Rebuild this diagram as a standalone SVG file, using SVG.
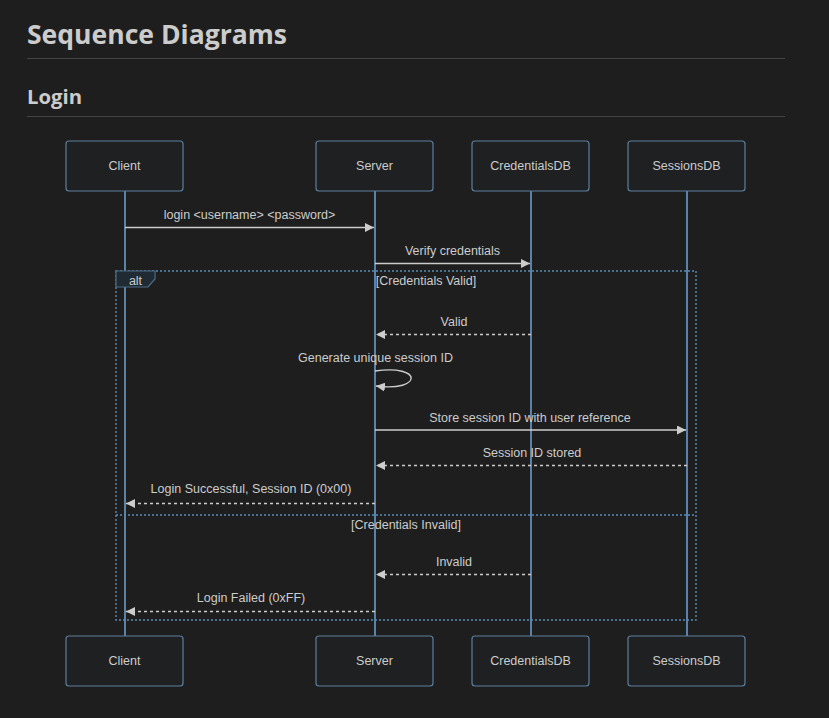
<svg xmlns="http://www.w3.org/2000/svg" width="829" height="718" viewBox="0 0 829 718">
<style>
.bg{fill:#1e1e1e}
.h{fill:#cccccc;font-family:"Open Sans","DejaVu Sans",sans-serif;font-weight:700}
.rule{stroke:#444444;stroke-width:1}
.actor rect{fill:#1f2021;stroke:#5d7f9f;stroke-width:1.2}
.t{fill:#cccccc;font-family:"Liberation Sans",Arial,sans-serif;font-size:12.5px;text-anchor:middle}
.life{stroke:#6b9ccb;stroke-width:1.6}
.msg{stroke:#cccccc;stroke-width:1.4;fill:none}
.dash{stroke-dasharray:3,3}
.frame{fill:none;stroke:#5b8ab5;stroke-width:1.4;stroke-dasharray:2,2}
.tab{fill:#1f2a33;stroke:#4d6d86;stroke-width:1.2}
</style>
<defs>
<marker id="ah" viewBox="0 0 10 10" refX="10" refY="5" markerWidth="9" markerHeight="9" markerUnits="userSpaceOnUse" orient="auto">
<path d="M0,0 L10,5 L0,10 z" fill="#cccccc"/>
</marker>
</defs>
<rect class="bg" x="0" y="0" width="829" height="718"/>
<text class="h" x="27" y="44" font-size="27" textLength="260" lengthAdjust="spacingAndGlyphs">Sequence Diagrams</text>
<line class="rule" x1="27" y1="58.5" x2="785" y2="58.5"/>
<text class="h" x="27" y="104" font-size="19" textLength="55" lengthAdjust="spacingAndGlyphs">Login</text>
<line class="rule" x1="27" y1="116.5" x2="785" y2="116.5"/>

<g id="lifelines">
<line class="life" x1="125" y1="191" x2="125" y2="636"/>
<line class="life" x1="375" y1="191" x2="375" y2="636"/>
<line class="life" x1="531" y1="191" x2="531" y2="636"/>
<line class="life" x1="687" y1="191" x2="687" y2="636"/>
</g>

<g id="client" class="actor">
<rect x="66" y="141" width="117" height="50" rx="3"/>
<text class="t" x="124.5" y="170">Client</text>
</g>
<g id="server" class="actor">
<rect x="316" y="141" width="117" height="50" rx="3"/>
<text class="t" x="374.5" y="170">Server</text>
</g>
<g id="credentialsdb" class="actor">
<rect x="472" y="141" width="117" height="50" rx="3"/>
<text class="t" x="530.5" y="170">CredentialsDB</text>
</g>
<g id="sessionsdb" class="actor">
<rect x="628" y="141" width="117" height="50" rx="3"/>
<text class="t" x="686.5" y="170">SessionsDB</text>
</g>
<g id="client-bottom" class="actor">
<rect x="66" y="636" width="117" height="50" rx="3"/>
<text class="t" x="124.5" y="665">Client</text>
</g>
<g id="server-bottom" class="actor">
<rect x="316" y="636" width="117" height="50" rx="3"/>
<text class="t" x="374.5" y="665">Server</text>
</g>
<g id="credentialsdb-bottom" class="actor">
<rect x="472" y="636" width="117" height="50" rx="3"/>
<text class="t" x="530.5" y="665">CredentialsDB</text>
</g>
<g id="sessionsdb-bottom" class="actor">
<rect x="628" y="636" width="117" height="50" rx="3"/>
<text class="t" x="686.5" y="665">SessionsDB</text>
</g>

<g id="alt">
<rect class="frame" x="116" y="271" width="580" height="349"/>
<line class="frame" x1="116" y1="515" x2="696" y2="515"/>
<path class="tab" d="M116,271 L155,271 L155,279 L148,287 L116,287 z"/>
<text class="t" x="135.5" y="285">alt</text>
<text class="t" x="426" y="285">[Credentials Valid]</text>
<text class="t" x="406" y="529">[Credentials Invalid]</text>
</g>

<g id="connectors">
<line class="msg" x1="125" y1="227.5" x2="374" y2="227.5" marker-end="url(#ah)"/>
<text class="t" x="249.5" y="219">login &lt;username&gt; &lt;password&gt;</text>
<line class="msg" x1="375" y1="263.5" x2="530" y2="263.5" marker-end="url(#ah)"/>
<text class="t" x="452.5" y="255">Verify credentials</text>
<line class="msg dash" x1="531" y1="334.5" x2="376" y2="334.5" marker-end="url(#ah)"/>
<text class="t" x="454" y="326">Valid</text>
<path class="msg" d="M375,371 C423,364 423,392 376,386" marker-end="url(#ah)"/>
<text class="t" x="375.5" y="362">Generate unique session ID</text>
<line class="msg" x1="375" y1="430" x2="686" y2="430" marker-end="url(#ah)"/>
<text class="t" x="530" y="422">Store session ID with user reference</text>
<line class="msg dash" x1="687" y1="465.5" x2="376" y2="465.5" marker-end="url(#ah)"/>
<text class="t" x="532" y="457">Session ID stored</text>
<line class="msg dash" x1="375" y1="503.5" x2="126" y2="503.5" marker-end="url(#ah)"/>
<text class="t" x="251" y="493">Login Successful, Session ID (0x00)</text>
<line class="msg dash" x1="531" y1="574.5" x2="376" y2="574.5" marker-end="url(#ah)"/>
<text class="t" x="454" y="566">Invalid</text>
<line class="msg dash" x1="375" y1="611.5" x2="126" y2="611.5" marker-end="url(#ah)"/>
<text class="t" x="251" y="602">Login Failed (0xFF)</text>
</g>
</svg>
